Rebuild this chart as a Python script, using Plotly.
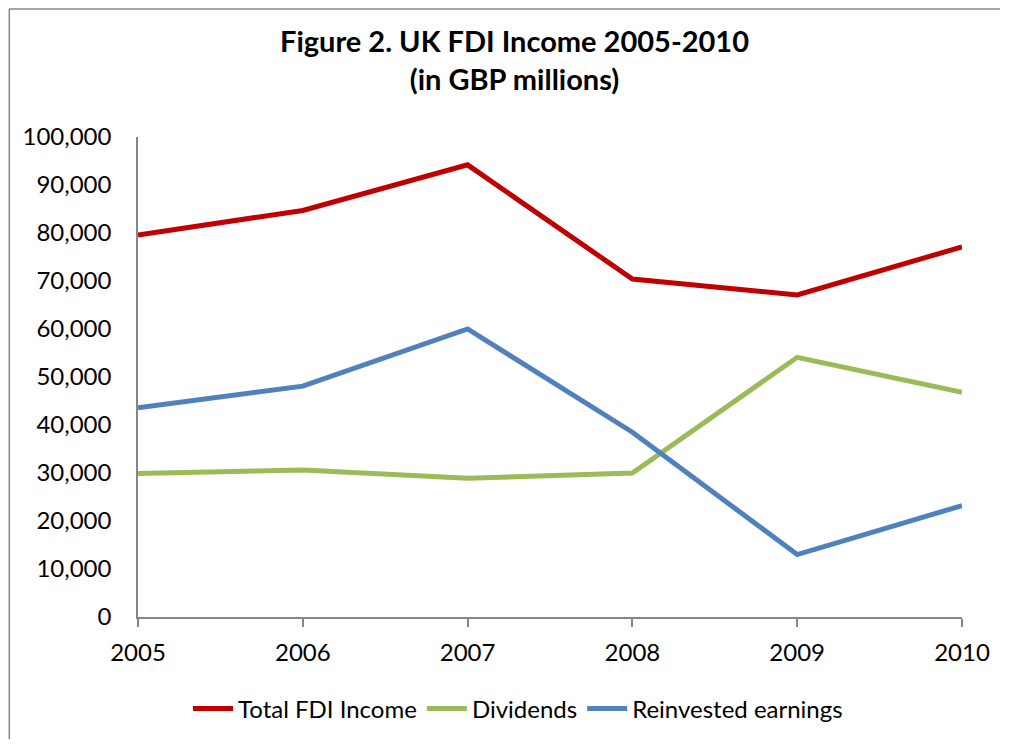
import plotly.graph_objects as go

years = [2005, 2006, 2007, 2008, 2009, 2010]
total_fdi = [79600, 84700, 94200, 70400, 67100, 77100]
dividends = [29900, 30600, 28900, 30000, 54100, 46800]
reinvested = [43600, 48100, 60000, 38500, 13000, 23200]

series_names = ["Total FDI Income", "Dividends", "Reinvested earnings"]
series_colors = ["#C00000", "#9BBB59", "#4F81BD"]
series_values = [total_fdi, dividends, reinvested]

FONT = "Lato, 'Open Sans', 'DejaVu Sans', sans-serif"
AXIS_GRAY = "#868686"

fig = go.Figure()
for name, color, vals in zip(series_names, series_colors, series_values):
    fig.add_trace(go.Scatter(
        x=years, y=vals, mode="lines", name=name,
        line=dict(color=color, width=5),
    ))

# the page body adds an 8px offset on every side; size the figure so the page
# does not overflow the 1010x747 window and place the plot where the reference has it
OFF = 8
W, H = 1010 - 2 * OFF, 747 - 2 * OFF
L, T = 138 - OFF, 137 - OFF
R = W - (964 - OFF)
B = H - (617 - OFF)
pw, ph = W - L - R, H - T - B

fig.update_layout(
    width=W, height=H,
    margin=dict(l=L, r=R, t=T, b=B, pad=0),
    paper_bgcolor="white", plot_bgcolor="white",
    font=dict(family=FONT, size=24, color="black"),
    title=dict(
        text="<b>Figure 2. UK FDI Income 2005-2010<br>(in GBP millions)</b>",
        x=(514.5 - OFF) / W, xanchor="center", xref="container",
        y=1 - 44 / H, yanchor="top", yref="container",
        font=dict(family=FONT, size=29, color="black"),
    ),
    xaxis=dict(
        range=[2005, 2010], tickmode="array", tickvals=years,
        ticktext=[str(y) for y in years],
        showgrid=False, zeroline=False, showline=True,
        linecolor=AXIS_GRAY, linewidth=1.5,
        ticks="outside", ticklen=8, tickwidth=1.5, tickcolor=AXIS_GRAY,
        ticklabelstandoff=5,
        tickfont=dict(size=24),
    ),
    yaxis=dict(
        range=[0, 100000], dtick=10000, tickformat=",",
        showgrid=False, zeroline=False, showline=True,
        linecolor=AXIS_GRAY, linewidth=1.5, ticks="",
        ticklabelstandoff=20,
        tickfont=dict(size=24),
    ),
    legend=dict(
        orientation="h", x=(518 - OFF) / W, xanchor="center", xref="container",
        y=(H - (709 - OFF)) / H, yanchor="middle", yref="container",
        font=dict(size=24), itemwidth=40,
        bgcolor="rgba(0,0,0,0)",
    ),
    showlegend=True,
)

# chart-area border: only the left and top edges are inside the window
bx = (9 - OFF - L) / pw
by = 1 + (T - 1) / ph
fig.add_shape(type="line", xref="paper", yref="paper",
              x0=bx, x1=bx, y0=-B / ph, y1=by,
              line=dict(color=AXIS_GRAY, width=1.5), layer="below")
fig.add_shape(type="line", xref="paper", yref="paper",
              x0=bx, x1=1 + R / pw, y0=by, y1=by,
              line=dict(color=AXIS_GRAY, width=1.5), layer="below")

fig.write_html("out.html")
